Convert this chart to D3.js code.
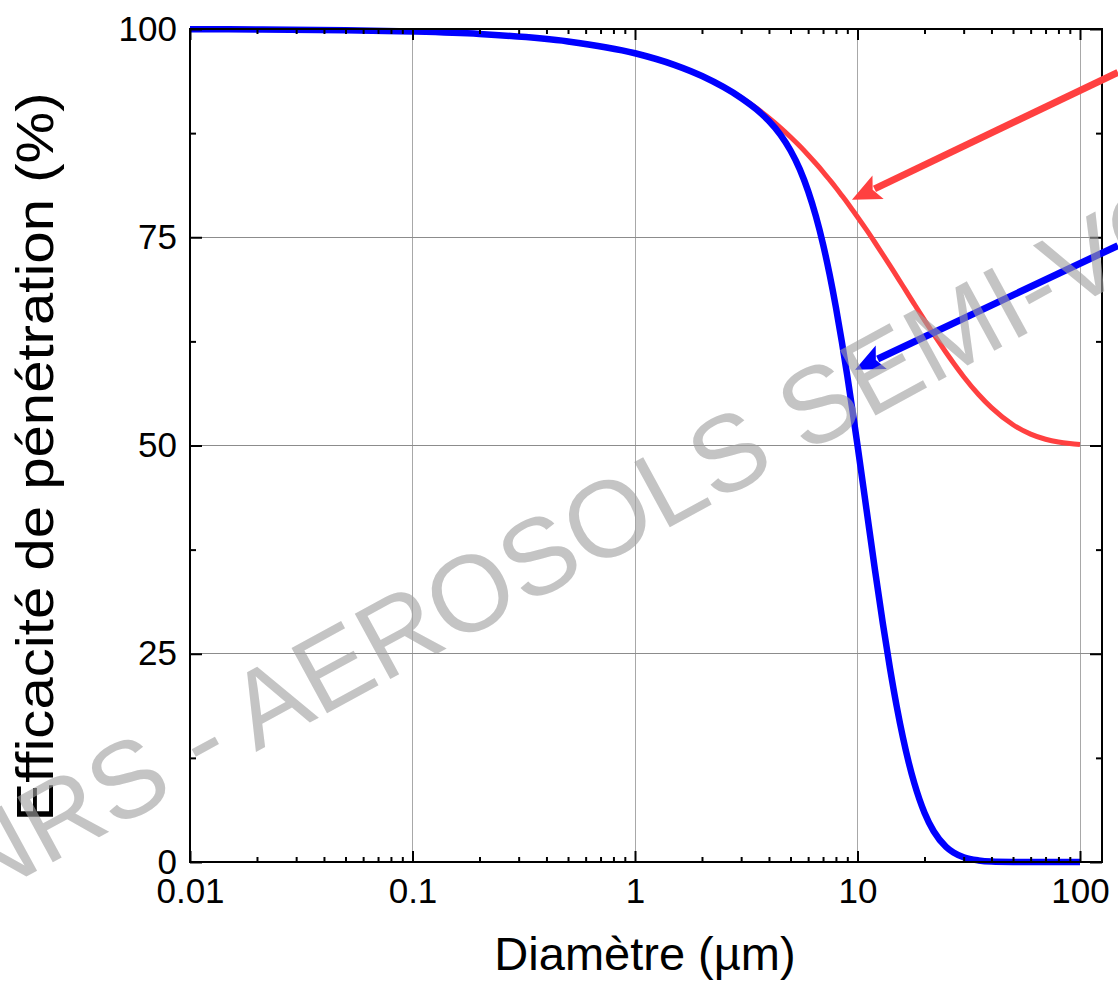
<!DOCTYPE html>
<html>
<head>
<meta charset="utf-8">
<script src="https://cdn.jsdelivr.net/npm/d3@7/dist/d3.min.js"></script>
<style>
  html, body { margin: 0; padding: 0; background: #fff; }
  svg { display: block; }
  text { font-family: "Liberation Sans", Arial, sans-serif; }
</style>
</head>
<body>
<svg id="chart" width="1118" height="981"></svg>
<script>
// ---- data ----
const diameters = [0.01, 0.02, 0.05, 0.1, 0.2, 0.5, 1, 1.5, 2, 3, 3.5, 4, 4.5, 5, 5.5, 6, 6.5, 7, 7.5, 8, 8.5, 9, 9.5, 10, 11, 12, 13, 14, 15, 16, 17, 18, 20, 22, 25, 27, 30, 35, 40, 50, 60, 70, 80, 90, 100];
const inhalable = [99.97, 99.94, 99.85, 99.70, 99.40, 98.51, 97.09, 95.70, 94.35, 91.76, 90.53, 89.33, 88.17, 87.04, 85.95, 84.88, 83.85, 82.86, 81.88, 80.94, 80.02, 79.14, 78.27, 77.44, 75.85, 74.34, 72.92, 71.59, 70.33, 69.15, 68.03, 66.98, 65.06, 63.36, 61.16, 59.90, 58.26, 56.12, 54.54, 52.49, 51.37, 50.75, 50.41, 50.23, 50.12];
const thoracic = [99.97, 99.94, 99.85, 99.70, 99.40, 98.51, 97.09, 95.70, 94.35, 91.72, 90.39, 88.95, 87.33, 85.42, 83.18, 80.54, 77.53, 74.17, 70.48, 66.57, 62.49, 58.33, 54.15, 50.03, 42.13, 34.94, 28.63, 23.23, 18.70, 14.96, 11.91, 9.46, 5.91, 3.69, 1.82, 1.14, 0.57, 0.19, 0.06, 0.01, 0, 0, 0, 0, 0];

const xTickValues = [0.01, 0.1, 1, 10, 100];
const xTickLabels = ["0.01", "0.1", "1", "10", "100"];
const yTickValues = [0, 25, 50, 75, 100];
const yTickLabels = ["0", "25", "50", "75", "100"];
const yMinorValues = [12.5, 37.5, 62.5, 87.5];
const xMinorValues = [];
[0.01, 0.1, 1, 10].forEach(dec => { for (let k = 2; k <= 9; k++) xMinorValues.push(+(dec * k).toPrecision(3)); });

// arrows: [tail diameter, tail value] -> [tip diameter, tip value]
const redArrow = { from: [148, 94.8], to: [9.44, 79.5] };
const blueArrow = { from: [148, 74.0], to: [9.75, 59.1] };

const xTitle = "Diamètre (µm)";
const yTitle = "Efficacité de pénétration (%)";
const watermark = "INRS - AEROSOLS SEMI-VOLATILS";

// ---- layout ----
const L = 190, R = 1102, T = 29, B = 862;
const svg = d3.select("#chart");
const x = d3.scaleLog().domain([0.01, 100]).range([L, 1080]);
const y = d3.scaleLinear().domain([0, 100]).range([B, T]);

// gridlines
const grid = svg.append("g").attr("shape-rendering", "crispEdges");
grid.selectAll("line.v").data(xTickValues.slice(1)).join("line")
  .attr("x1", d => x(d)).attr("x2", d => x(d)).attr("y1", T).attr("y2", B)
  .attr("stroke", "#a8a8a8").attr("stroke-width", 1);
grid.selectAll("line.h").data([25, 50, 75]).join("line")
  .attr("x1", L).attr("x2", R).attr("y1", d => y(d)).attr("y2", d => y(d))
  .attr("stroke", "#8c8c8c").attr("stroke-width", 1);

// curves
const pts = (vals) => diameters.map((d, i) => [d, vals[i]]);
const line = d3.line().x(d => x(d[0])).y(d => y(d[1])).curve(d3.curveMonotoneX);
svg.append("path").attr("d", line(pts(inhalable)))
  .attr("fill", "none").attr("stroke", "#ff4040").attr("stroke-width", 5);
svg.append("path").attr("d", line(pts(thoracic)))
  .attr("fill", "none").attr("stroke", "#0000ff").attr("stroke-width", 6.5);

// axes
function styleAxis(g) {
  g.select(".domain").remove();
  g.selectAll(".tick line").attr("stroke", "#000").attr("stroke-width", 2);
  g.selectAll(".tick text").attr("fill", "#000").attr("font-size", 35)
    .attr("font-family", '"Liberation Sans", Arial, sans-serif');
}
const xLab = d => xTickLabels[xTickValues.indexOf(d)];
const yLab = d => yTickLabels[yTickValues.indexOf(d)];

svg.append("g").attr("transform", `translate(0,${B})`)
  .call(d3.axisBottom(x).tickValues(xTickValues).tickFormat(xLab).tickSize(-11).tickPadding(16)).call(styleAxis);
svg.append("g").attr("transform", `translate(0,${B})`)
  .call(d3.axisBottom(x).tickValues(xMinorValues).tickFormat("").tickSize(-5)).call(styleAxis);
svg.append("g").attr("transform", `translate(0,${T})`)
  .call(d3.axisTop(x).tickValues(xTickValues).tickFormat("").tickSize(-11)).call(styleAxis);
svg.append("g").attr("transform", `translate(0,${T})`)
  .call(d3.axisTop(x).tickValues(xMinorValues).tickFormat("").tickSize(-5)).call(styleAxis);

svg.append("g").attr("transform", `translate(${L},0)`)
  .call(d3.axisLeft(y).tickValues(yTickValues).tickFormat(yLab).tickSize(-12).tickPadding(13)).call(styleAxis);
svg.append("g").attr("transform", `translate(${L},0)`)
  .call(d3.axisLeft(y).tickValues(yMinorValues).tickFormat("").tickSize(-6)).call(styleAxis);
svg.append("g").attr("transform", `translate(${R},0)`)
  .call(d3.axisRight(y).tickValues(yTickValues).tickFormat("").tickSize(-12)).call(styleAxis);
svg.append("g").attr("transform", `translate(${R},0)`)
  .call(d3.axisRight(y).tickValues(yMinorValues).tickFormat("").tickSize(-6)).call(styleAxis);

// frame
svg.append("rect").attr("x", L).attr("y", T).attr("width", R - L).attr("height", B - T)
  .attr("fill", "none").attr("stroke", "#000").attr("stroke-width", 2);

// titles
svg.append("text").attr("x", 645).attr("y", 970).attr("text-anchor", "middle")
  .attr("font-size", 47).attr("fill", "#000").text(xTitle);
svg.append("text").attr("transform", "translate(53,457) rotate(-90) scale(1.14,1)")
  .attr("text-anchor", "middle").attr("font-size", 51).attr("fill", "#000").text(yTitle);

// arrows
function arrow(a, color, w) {
  const x1 = x(a.from[0]), y1 = y(a.from[1]), x2 = x(a.to[0]), y2 = y(a.to[1]);
  const ang = Math.atan2(y2 - y1, x2 - x1);
  const hl = 29, hw = 13;
  const bx = x2 - hl * Math.cos(ang), by = y2 - hl * Math.sin(ang);
  svg.append("line").attr("x1", x1).attr("y1", y1).attr("x2", bx + 4 * Math.cos(ang)).attr("y2", by + 4 * Math.sin(ang))
    .attr("stroke", color).attr("stroke-width", w);
  const nx = -Math.sin(ang), ny = Math.cos(ang);
  svg.append("path")
    .attr("d", `M${x2},${y2}L${bx + hw * nx},${by + hw * ny}L${bx + 6 * Math.cos(ang)},${by + 6 * Math.sin(ang)}L${bx - hw * nx},${by - hw * ny}Z`)
    .attr("fill", color);
}
arrow(redArrow, "#ff4040", 7);
arrow(blueArrow, "#0000ff", 7);

// watermark
svg.append("text").attr("transform", "translate(-50,918) rotate(-28.5)")
  .attr("font-size", 108).attr("fill", "rgb(160,160,160)").attr("fill-opacity", 0.62)
  .text(watermark);
</script>
</body>
</html>
